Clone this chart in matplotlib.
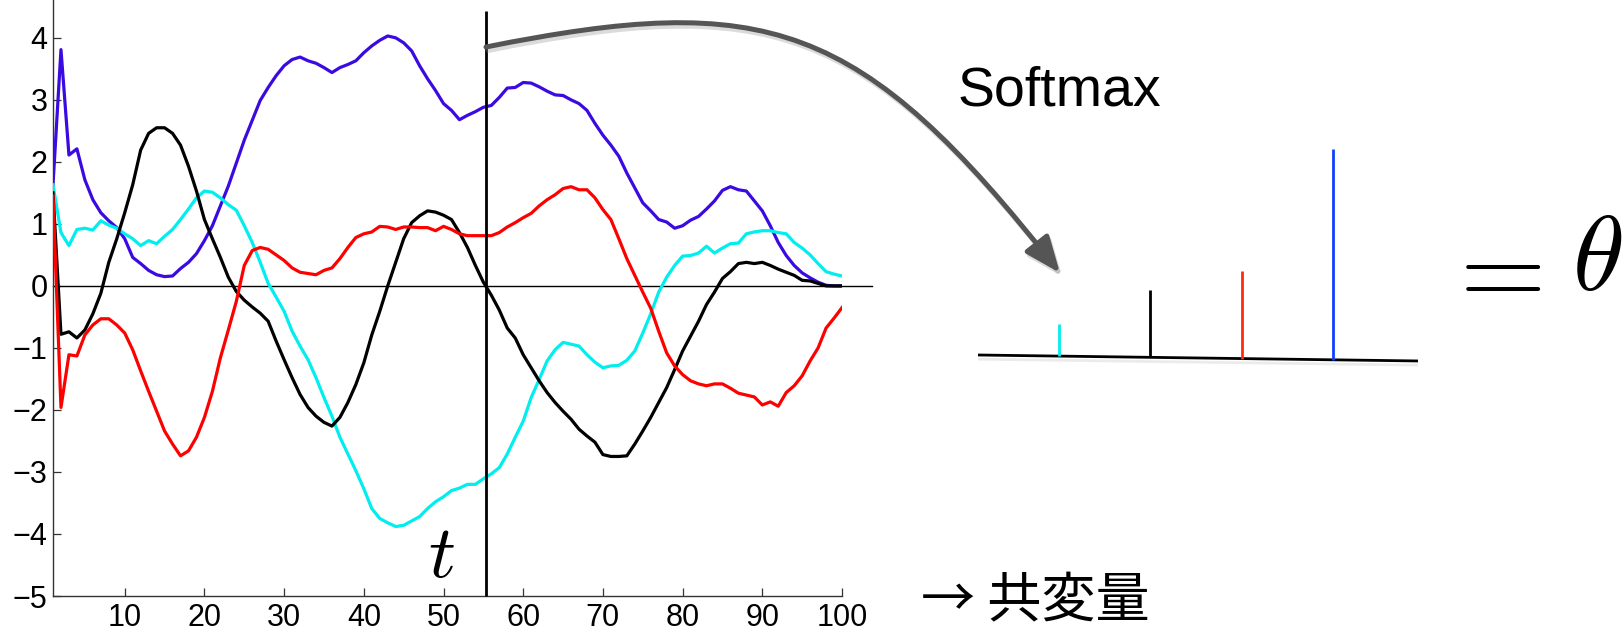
"""
Softmax over four covariate curves at time t, drawn as one figure.
"""

import numpy as np
import matplotlib
matplotlib.use("Agg")
import matplotlib.pyplot as plt
import matplotlib.patheffects as pe
from matplotlib.patches import FancyArrowPatch
from matplotlib.path import Path

plt.rcParams['font.family'] = ['Liberation Sans', 'DejaVu Sans']
plt.rcParams['mathtext.fontset'] = 'cm'
plt.rcParams['xtick.labelsize'] = 22
plt.rcParams['ytick.labelsize'] = 22

W, H = 1623, 631

steps = np.arange(1, 101)

blue = [1.63, 3.81, 2.11, 2.21, 1.71, 1.39, 1.18, 1.05, 0.94, 0.76,
        0.46, 0.36, 0.25, 0.18, 0.15, 0.16, 0.28, 0.38, 0.52, 0.73,
        0.97, 1.29, 1.61, 1.98, 2.35, 2.67, 2.99, 3.20, 3.39, 3.55,
        3.65, 3.69, 3.63, 3.59, 3.52, 3.44, 3.52, 3.57, 3.63, 3.76,
        3.87, 3.96, 4.03, 4.00, 3.92, 3.79, 3.55, 3.34, 3.15, 2.94,
        2.83, 2.68, 2.75, 2.81, 2.88, 2.91, 3.04, 3.19, 3.20, 3.28,
        3.27, 3.21, 3.14, 3.08, 3.07, 3.00, 2.94, 2.83, 2.62, 2.43,
        2.27, 2.09, 1.82, 1.58, 1.34, 1.21, 1.07, 1.03, 0.93, 0.97,
        1.06, 1.12, 1.24, 1.37, 1.54, 1.60, 1.55, 1.53, 1.37, 1.21,
        0.97, 0.70, 0.49, 0.33, 0.21, 0.13, 0.06, 0.01, 0.00, 0.00]

cyan = [1.63, 0.86, 0.65, 0.91, 0.93, 0.90, 1.05, 0.98, 0.93, 0.84,
        0.76, 0.65, 0.73, 0.68, 0.80, 0.91, 1.07, 1.24, 1.42, 1.53,
        1.51, 1.42, 1.31, 1.22, 0.97, 0.70, 0.38, 0.04, -0.18, -0.41,
        -0.73, -0.97, -1.19, -1.48, -1.80, -2.10, -2.44, -2.71, -2.98, -3.27,
        -3.59, -3.75, -3.82, -3.88, -3.86, -3.79, -3.72, -3.59, -3.48, -3.40,
        -3.30, -3.26, -3.20, -3.20, -3.11, -3.03, -2.93, -2.71, -2.44, -2.18,
        -1.80, -1.51, -1.21, -1.03, -0.91, -0.94, -0.97, -1.11, -1.23, -1.32,
        -1.29, -1.28, -1.20, -1.05, -0.76, -0.45, -0.10, 0.14, 0.33, 0.48,
        0.49, 0.53, 0.64, 0.53, 0.61, 0.68, 0.69, 0.84, 0.87, 0.89,
        0.89, 0.86, 0.84, 0.70, 0.61, 0.50, 0.36, 0.23, 0.19, 0.16]

black = [1.50, -0.78, -0.74, -0.84, -0.71, -0.45, -0.12, 0.38, 0.76, 1.18,
         1.63, 2.19, 2.46, 2.55, 2.55, 2.46, 2.27, 1.93, 1.53, 1.07,
         0.76, 0.46, 0.14, -0.09, -0.23, -0.34, -0.44, -0.57, -0.89, -1.19,
         -1.48, -1.75, -1.96, -2.10, -2.20, -2.26, -2.12, -1.88, -1.59, -1.24,
         -0.79, -0.41, 0.00, 0.38, 0.76, 1.02, 1.13, 1.21, 1.19, 1.14,
         1.07, 0.86, 0.62, 0.33, 0.06, -0.15, -0.39, -0.68, -0.84, -1.11,
         -1.32, -1.53, -1.72, -1.88, -2.02, -2.15, -2.31, -2.42, -2.52, -2.72,
         -2.75, -2.75, -2.74, -2.55, -2.34, -2.12, -1.88, -1.64, -1.35, -1.05,
         -0.81, -0.57, -0.30, -0.10, 0.12, 0.23, 0.36, 0.38, 0.36, 0.38,
         0.33, 0.27, 0.22, 0.17, 0.09, 0.08, 0.04, 0.00, 0.00, 0.00]

red = [1.45, -1.96, -1.11, -1.13, -0.79, -0.63, -0.53, -0.53, -0.63, -0.76,
       -1.03, -1.37, -1.70, -2.02, -2.34, -2.55, -2.74, -2.66, -2.44, -2.12,
       -1.70, -1.16, -0.71, -0.25, 0.33, 0.57, 0.62, 0.59, 0.50, 0.41,
       0.29, 0.22, 0.20, 0.18, 0.25, 0.29, 0.44, 0.62, 0.78, 0.84,
       0.87, 0.96, 0.95, 0.91, 0.95, 0.95, 0.94, 0.94, 0.89, 0.96,
       0.91, 0.84, 0.81, 0.81, 0.81, 0.81, 0.86, 0.95, 1.02, 1.10,
       1.17, 1.29, 1.39, 1.47, 1.57, 1.60, 1.55, 1.55, 1.42, 1.23,
       1.07, 0.76, 0.44, 0.17, -0.10, -0.36, -0.73, -1.08, -1.29, -1.43,
       -1.53, -1.58, -1.61, -1.58, -1.58, -1.65, -1.73, -1.76, -1.79, -1.92,
       -1.87, -1.94, -1.72, -1.61, -1.45, -1.21, -1.00, -0.68, -0.52, -0.35]

series = [blue, cyan, black, red]
series_colors = ['#3a0ae0', '#00eeee', '#000000', '#ff0000']

t_now = 55.3

# softmax weights at t, in the order shown left to right
theta = [0.08, 0.17, 0.22, 0.53]
theta_colors = ['#00eeee', '#000000', '#ff2a10', '#1040ff']


def px(x, y):
    """Pixel position in the picture -> figure fraction."""
    return x / W, 1 - y / H


fig = plt.figure(figsize=(W / 100, H / 100), dpi=100)

# ---- curves ----
ax = fig.add_axes([53 / W, 1 - 596 / H, (842 - 53) / W, 596 / H])
for values, color in zip(series, series_colors):
    ax.plot(steps, values, color=color, lw=2.3, zorder=3)

ax.set_xlim(1, 100)
ax.set_ylim(-5, 4.61)
ax.set_xticks(np.arange(10, 101, 10))
ax.set_yticks(np.arange(-5, 5, 1))
ax.tick_params(direction='in', length=5.5, width=0.9, color='#333333')
ax.tick_params(axis='x', pad=5)
ax.tick_params(axis='y', pad=4)
for side in ['top', 'right']:
    ax.spines[side].set_visible(False)
for side in ['left', 'bottom']:
    ax.spines[side].set_color('#333333')
    ax.spines[side].set_linewidth(1.0)

ax.axhline(0, xmin=0, xmax=1.038, color='black', lw=1.0, clip_on=False,
           zorder=2)
ax.vlines(t_now, -5, 4.43, color='black', lw=2.0, zorder=4, clip_on=False)

fig.text(*px(441, 557), r'$t$', fontsize=54, ha='center', va='center')

# ---- curved arrow to the softmax ----
verts = [px(486, 47), px(766, -9), px(860, 19), px(1060, 273)]
arrow_path = Path(verts, [Path.MOVETO, Path.CURVE4, Path.CURVE4, Path.CURVE4])
arrow = FancyArrowPatch(path=arrow_path, transform=fig.transFigure,
                        arrowstyle='-|>,head_length=1.1,head_width=0.45',
                        mutation_scale=20, lw=3.6, color='#555555',
                        shrinkA=0, shrinkB=0)
arrow.set_path_effects([
    pe.SimpleLineShadow(offset=(1.5, -2.5), shadow_color='#888888',
                        alpha=0.3),
    pe.Normal()])
fig.add_artist(arrow)

fig.text(*px(958, 105), 'Softmax', fontsize=40, ha='left',
         va='baseline')

# ---- softmax stems ----
ax2 = fig.add_axes([978 / W, 1 - 380 / H, (1418 - 978) / W, 280 / H])
ax2.set_xlim(0.113, 4.93)
ax2.set_ylim(-0.0553, 0.648)
ax2.axis('off')

positions = np.arange(1, len(theta) + 1)
tilt = 0.015 / (4.93 - 0.113)
bases = 0.0075 - tilt * (positions - 0.113)
ax2.plot([0.113, 4.93], [0.0075, -0.0075], color='black', lw=2.0,
         solid_capstyle='butt',
         path_effects=[pe.SimpleLineShadow(offset=(0, -3), alpha=0.08),
                       pe.Normal()])
ax2.vlines(positions, bases, bases + np.array(theta), colors=theta_colors,
           lw=2.0)

fig.text(*px(1491, 275), r'$=$', fontsize=80, ha='center', va='center')
fig.text(*px(1572, 263), r'$\theta$', fontsize=76, ha='left', va='center')

fig.text(*px(921, 602), '→ 共変量', fontsize=39, ha='left', va='center',
         family=['Noto Sans CJK JP', 'DejaVu Sans'])

fig.savefig('out.png', dpi=100)
